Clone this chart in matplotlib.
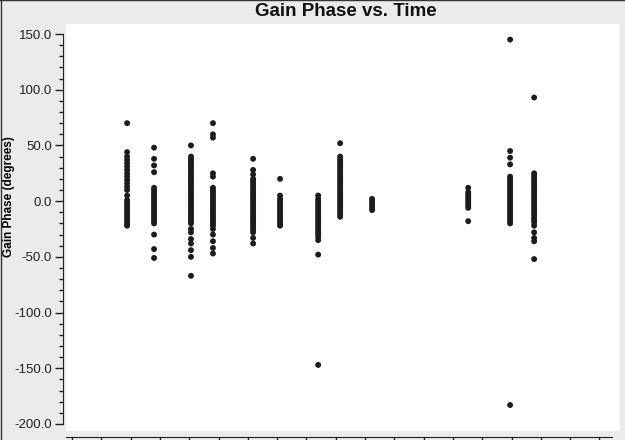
import matplotlib
matplotlib.use("Agg")
import matplotlib.pyplot as plt
from matplotlib.ticker import MultipleLocator, FormatStrFormatter
from matplotlib.lines import Line2D

plt.rcParams['font.family'] = ['Liberation Sans', 'DejaVu Sans']

# scan times (arbitrary time units, one tick per unit)
times = [1.88, 2.80, 4.06, 4.81, 6.18, 7.10, 8.40, 9.15, 10.24, 13.52, 14.95, 15.77]

# gain phase values (degrees) per scan
phase_1 = [70, 44, 40, 37, 34, 31, 28, 25, 22, 19, 16, 13, 10, 5, 1, -1, -3, -5, -7, -9,
           -11, -13, -15, -17, -19, -21, -22]
phase_2 = [48, 38, 32, 26, 12, 10, 8, 6, 4, 2, 0, -2, -4, -6, -8, -10, -12, -14, -16, -18,
           -20, -30, -43, -51]
phase_3 = [50, 40, 38, 36, 34, 32, 30, 28, 26, 24, 22, 20, 18, 16, 14, 12, 10, 8, 6, 4, 2, 0,
           -2, -4, -6, -8, -10, -12, -14, -16, -18, -20, -25, -28, -34, -38, -44, -50, -67]
phase_4 = [70, 60, 57, 25, 22, 12, 10, 8, 6, 4, 2, 0, -2, -4, -6, -8, -10, -12, -14, -16,
           -18, -20, -22, -25, -30, -36, -42, -47]
phase_5 = [38, 28, 24, 20, 18, 16, 14, 12, 10, 8, 6, 4, 2, 0, -2, -4, -6, -8, -10, -12, -14,
           -16, -18, -20, -22, -24, -26, -28, -33, -38]
phase_6 = [20, 5, 2, 0, -2, -4, -6, -8, -10, -12, -14, -16, -18, -20, -22]
phase_7 = [5, 2, 0, -2, -4, -6, -8, -10, -12, -14, -16, -18, -20, -22, -24, -26, -28, -30,
           -32, -35, -48, -147]
phase_8 = [52, 40, 38, 36, 34, 32, 30, 28, 26, 24, 22, 20, 18, 16, 14, 12, 10, 8, 6, 4, 2, 0,
           -2, -4, -6, -8, -10, -12, -14]
phase_9 = [2, 0, -2, -4, -6, -8]
phase_10 = [12, 8, 6, 4, 2, 0, -2, -4, -6, -18]
phase_11 = [145, 45, 39, 33, 22, 20, 18, 16, 14, 12, 10, 8, 6, 4, 2, 0, -2, -4, -6, -8, -10,
            -12, -14, -16, -18, -20, -183]
phase_12 = [93, 25, 23, 21, 19, 17, 15, 13, 11, 9, 7, 5, 3, 1, -1, -3, -5, -7, -9, -11, -13,
            -15, -17, -19, -22, -28, -33, -36, -52]

phases = [phase_1, phase_2, phase_3, phase_4, phase_5, phase_6, phase_7, phase_8,
          phase_9, phase_10, phase_11, phase_12]

W, H = 625, 440
fig = plt.figure(figsize=(W / 100, H / 100), dpi=100, facecolor='#ebebeb')

ax = fig.add_axes([66 / W, (H - 431) / H, (620 - 66) / W, (431 - 24) / H])
ax.set_facecolor('white')

for t, vals in zip(times, phases):
    ax.scatter([t] * len(vals), vals, s=18, color='#1c1c1c', edgecolors='none', zorder=3)

# axis ranges
x_lo, x_hi = -0.205, 18.70
ax.set_xlim(x_lo, x_hi)
ax.set_ylim(-206.3, 159)

# y axis
ax.yaxis.set_major_locator(MultipleLocator(50))
ax.yaxis.set_minor_locator(MultipleLocator(10))
ax.yaxis.set_major_formatter(FormatStrFormatter('%.1f'))
ax.tick_params(axis='y', which='major', direction='out', length=6, width=1,
               labelsize=9.5, pad=2, color='#222222', labelcolor='#222222')
ax.tick_params(axis='y', which='minor', direction='out', length=3, width=1, color='#222222')
ax.spines['left'].set_position(('outward', 2.2))
ax.spines['left'].set_bounds(-200, 150)
ax.spines['left'].set_color('#222222')

# x axis (labels fall outside the figure)
ax.xaxis.set_major_locator(MultipleLocator(1))
ax.tick_params(axis='x', which='major', direction='out', length=8, width=1,
               labelbottom=False, color='#222222')
ax.spines['bottom'].set_position(('outward', 4.3))
ax.spines['bottom'].set_bounds(x_lo, 18.43)
ax.spines['bottom'].set_color('#222222')

ax.spines['top'].set_visible(False)
ax.spines['right'].set_visible(False)

ax.set_ylabel('Gain Phase (degrees)', fontsize=8.5, fontweight='bold')
ax.yaxis.set_label_coords(-0.092, 0.575)

fig.text(346 / W, 1 - 11 / H, 'Gain Phase vs. Time', ha='center', va='center',
         fontsize=13.5, fontweight='bold', color='#111111')

# thin frame on left and top edges
fig.add_artist(Line2D([0.5 / W, 0.5 / W], [0, 1], transform=fig.transFigure,
                      color='#333333', lw=1))
fig.add_artist(Line2D([0, 1], [1 - 0.5 / H, 1 - 0.5 / H], transform=fig.transFigure,
                      color='#333333', lw=1))

fig.savefig('out.png', dpi=100, facecolor=fig.get_facecolor())
